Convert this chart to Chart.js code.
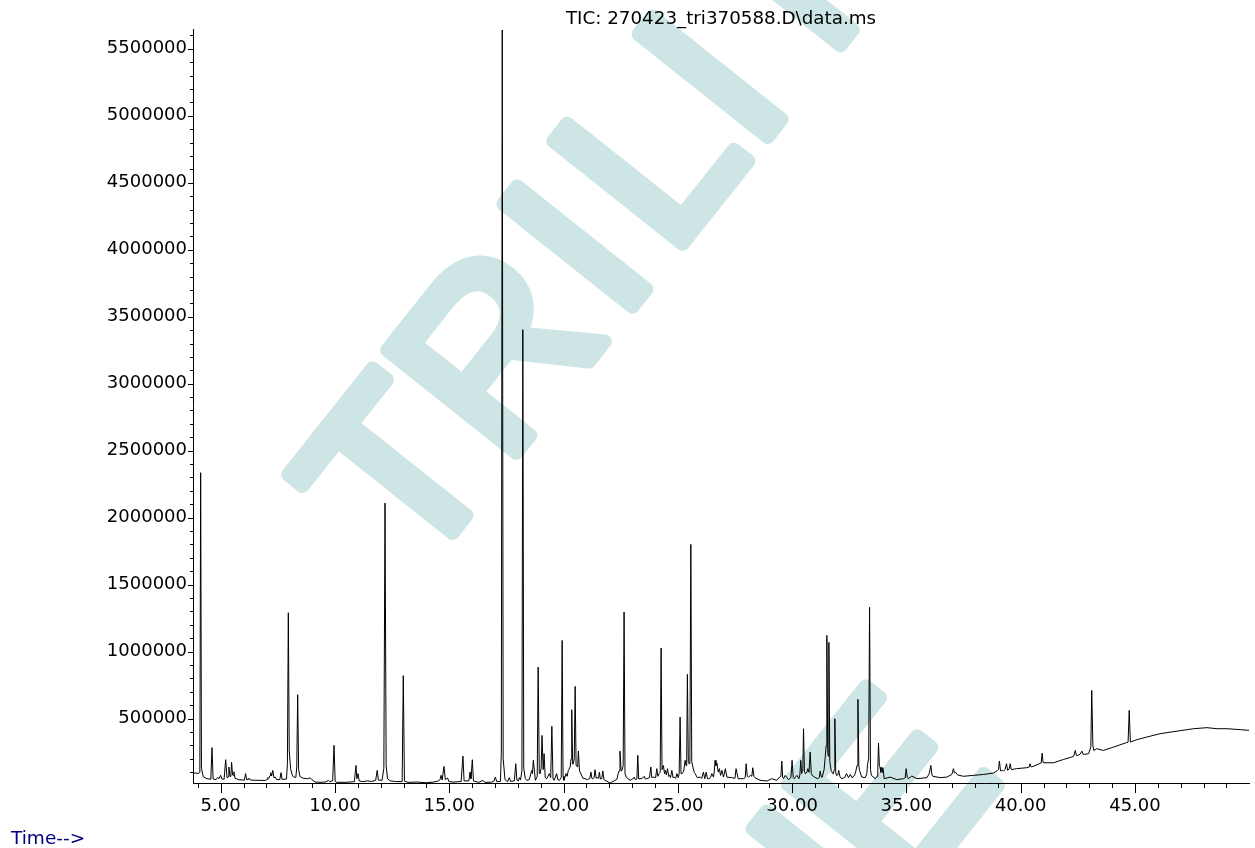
<!DOCTYPE html>
<html>
<head>
<meta charset="utf-8">
<script src="https://cdn.jsdelivr.net/npm/chart.js@4/dist/chart.umd.min.js"></script>
<style>
  html, body { margin: 0; padding: 0; background: #ffffff; }
  #c { display: block; }
</style>
</head>
<body>
<canvas id="c" width="1255" height="848"></canvas>
<script>
// ---- data ----
const chartTitle = 'TIC: 270423_tri370588.D\\data.ms';
const timeLabel = 'Time-->';
const xTickValues = [5, 10, 15, 20, 25, 30, 35, 40, 45];
const yTickValues = [500000, 1000000, 1500000, 2000000, 2500000, 3000000, 3500000, 4000000, 4500000, 5000000, 5500000];

const retentionTime = [
  3.79, 4.05, 4.09, 4.125, 4.16, 4.24, 4.40, 4.57, 4.62, 4.67, 4.80, 4.87, 4.92, 5.00, 5.05, 5.15,
  5.22, 5.28, 5.33, 5.36, 5.41, 5.45, 5.48, 5.52, 5.55, 5.58, 5.63, 5.80, 6.04, 6.09, 6.14, 6.21,
  6.25, 6.30, 6.60, 6.95, 7.03, 7.06, 7.11, 7.16, 7.19, 7.23, 7.28, 7.33, 7.39, 7.45, 7.59, 7.64,
  7.69, 7.88, 7.92, 7.96, 8.00, 8.06, 8.12, 8.18, 8.29, 8.33, 8.37, 8.41, 8.47, 8.60, 8.80, 8.91,
  8.98, 9.13, 9.35, 9.60, 9.71, 9.77, 9.90, 9.96, 10.01, 10.08, 10.50, 10.85, 10.92, 10.96, 11.01, 11.06,
  11.25, 11.42, 11.60, 11.78, 11.85, 11.90, 12.06, 12.14, 12.19, 12.24, 12.30, 12.42, 12.65, 12.94, 12.99, 13.04,
  13.20, 13.60, 14.00, 14.30, 14.52, 14.60, 14.64, 14.69, 14.77, 14.83, 14.93, 14.99, 15.20, 15.52, 15.60, 15.65,
  15.86, 15.91, 15.95, 16.01, 16.06, 16.30, 16.47, 16.55, 16.85, 16.96, 17.02, 17.08, 17.24, 17.28, 17.32, 17.36,
  17.44, 17.55, 17.63, 17.68, 17.85, 17.91, 17.96, 18.03, 18.07, 18.12, 18.18, 18.22, 18.26, 18.33, 18.39, 18.50,
  18.61, 18.64, 18.68, 18.77, 18.85, 18.89, 18.94, 18.97, 19.02, 19.06, 19.11, 19.15, 19.20, 19.27, 19.38, 19.44,
  19.49, 19.54, 19.59, 19.70, 19.75, 19.82, 19.90, 19.94, 19.98, 20.02, 20.11, 20.16, 20.21, 20.29, 20.33, 20.36,
  20.40, 20.43, 20.47, 20.51, 20.55, 20.58, 20.62, 20.65, 20.70, 20.76, 20.85, 20.94, 21.05, 21.15, 21.20, 21.24,
  21.28, 21.34, 21.38, 21.43, 21.48, 21.53, 21.57, 21.61, 21.64, 21.68, 21.72, 21.77, 21.82, 22.04, 22.26, 22.34,
  22.39, 22.43, 22.47, 22.52, 22.56, 22.61, 22.65, 22.69, 22.74, 22.91, 23.03, 23.09, 23.14, 23.21, 23.25, 23.29,
  23.35, 23.45, 23.53, 23.58, 23.64, 23.76, 23.82, 23.86, 23.93, 24.03, 24.08, 24.13, 24.18, 24.23, 24.27, 24.31,
  24.37, 24.42, 24.46, 24.50, 24.55, 24.60, 24.63, 24.68, 24.74, 24.79, 24.84, 24.91, 24.96, 25.02, 25.06, 25.10,
  25.14, 25.19, 25.26, 25.32, 25.36, 25.39, 25.42, 25.46, 25.49, 25.53, 25.57, 25.61, 25.66, 25.72, 25.76, 25.85,
  25.98, 26.05, 26.12, 26.18, 26.24, 26.30, 26.36, 26.43, 26.49, 26.56, 26.60, 26.63, 26.67, 26.71, 26.77, 26.82,
  26.87, 26.93, 27.00, 27.08, 27.15, 27.36, 27.50, 27.55, 27.64, 27.87, 27.95, 27.99, 28.04, 28.09, 28.19, 28.24,
  28.28, 28.33, 28.37, 28.60, 28.90, 29.11, 29.33, 29.45, 29.51, 29.55, 29.59, 29.62, 29.70, 29.84, 29.95, 30.00,
  30.05, 30.09, 30.21, 30.30, 30.34, 30.38, 30.42, 30.44, 30.47, 30.50, 30.54, 30.58, 30.65, 30.69, 30.74, 30.79,
  30.84, 30.88, 30.98, 31.11, 31.19, 31.23, 31.28, 31.32, 31.40, 31.45, 31.49, 31.52, 31.56, 31.58, 31.61, 31.65,
  31.71, 31.78, 31.81, 31.84, 31.87, 31.91, 31.94, 32.00, 32.04, 32.09, 32.16, 32.30, 32.38, 32.47, 32.55, 32.62,
  32.67, 32.74, 32.79, 32.84, 32.88, 32.92, 32.95, 33.05, 33.20, 33.27, 33.30, 33.35, 33.39, 33.43, 33.47, 33.64,
  33.72, 33.75, 33.78, 33.82, 33.85, 33.88, 33.91, 33.94, 33.97, 34.03, 34.29, 34.58, 34.87, 34.95, 34.99, 35.04,
  35.08, 35.24, 35.46, 35.90, 36.00, 36.07, 36.12, 36.16, 36.48, 36.77, 36.99, 37.06, 37.10, 37.15, 37.24, 37.50,
  37.94, 38.38, 38.81, 38.99, 39.03, 39.07, 39.12, 39.20, 39.25, 39.32, 39.38, 39.43, 39.50, 39.54, 39.59, 39.82,
  40.26, 40.38, 40.41, 40.46, 40.55, 40.82, 40.90, 40.94, 40.98, 41.00, 41.44, 41.88, 42.24, 42.32, 42.39, 42.44,
  42.49, 42.60, 42.68, 42.73, 42.78, 42.97, 43.07, 43.11, 43.16, 43.20, 43.33, 43.62, 44.06, 44.57, 44.70, 44.75,
  44.80, 45.08, 45.52, 46.10, 46.84, 47.56, 48.15, 48.59, 49.03, 49.61, 49.99
];

const ticAbundance = [
  95000, 92000, 100000, 2336000, 130000, 66000, 52000, 48000, 284000, 50000, 45000, 62000, 52000, 77000, 50000, 48000,
  194000, 60000, 66000, 139000, 70000, 82000, 174000, 80000, 76000, 104000, 55000, 44000, 42000, 90000, 45000, 46000,
  57000, 42000, 40000, 39000, 46000, 60000, 55000, 76000, 97000, 72000, 114000, 60000, 64000, 45000, 46000, 97000,
  46000, 50000, 160000, 1291000, 260000, 127000, 85000, 66000, 62000, 140000, 679000, 120000, 69000, 56000, 52000, 58000,
  47000, 27000, 25000, 28000, 40000, 30000, 36000, 301000, 32000, 25000, 25000, 30000, 151000, 52000, 90000, 35000,
  30000, 36000, 31000, 40000, 114000, 42000, 40000, 130000, 2109000, 150000, 52000, 36000, 31000, 30000, 821000, 34000,
  25000, 27000, 22000, 27000, 35000, 46000, 77000, 42000, 144000, 46000, 57000, 30000, 27000, 31000, 221000, 36000,
  36000, 101000, 52000, 194000, 35000, 25000, 40000, 25000, 26000, 35000, 64000, 30000, 32000, 250000, 5640000, 200000,
  45000, 30000, 60000, 32000, 36000, 164000, 42000, 36000, 60000, 42000, 110000, 3403000, 130000, 52000, 40000, 45000,
  114000, 90000, 189000, 40000, 70000, 885000, 95000, 90000, 130000, 375000, 120000, 239000, 60000, 52000, 90000, 60000,
  443000, 50000, 40000, 90000, 45000, 40000, 60000, 1084000, 70000, 40000, 90000, 70000, 114000, 139000, 200000, 567000,
  160000, 164000, 200000, 741000, 150000, 151000, 140000, 258000, 110000, 90000, 55000, 52000, 45000, 55000, 101000, 55000,
  52000, 60000, 119000, 55000, 60000, 55000, 101000, 50000, 52000, 60000, 110000, 45000, 40000, 20000, 40000, 50000,
  90000, 110000, 258000, 110000, 114000, 150000, 1296000, 90000, 64000, 40000, 50000, 64000, 45000, 50000, 226000, 50000,
  52000, 55000, 70000, 50000, 52000, 60000, 139000, 60000, 64000, 60000, 127000, 70000, 90000, 100000, 1027000, 120000,
  151000, 90000, 114000, 80000, 127000, 70000, 77000, 60000, 114000, 60000, 64000, 55000, 90000, 60000, 90000, 512000,
  90000, 90000, 110000, 189000, 150000, 200000, 831000, 180000, 164000, 250000, 1801000, 180000, 139000, 100000, 90000, 60000,
  64000, 55000, 101000, 52000, 101000, 52000, 52000, 60000, 90000, 64000, 110000, 189000, 150000, 169000, 101000, 127000,
  77000, 114000, 64000, 127000, 64000, 60000, 55000, 127000, 52000, 52000, 60000, 164000, 70000, 64000, 77000, 70000,
  134000, 70000, 60000, 40000, 35000, 52000, 40000, 64000, 70000, 184000, 60000, 52000, 77000, 45000, 60000, 189000,
  60000, 52000, 77000, 52000, 80000, 189000, 90000, 109000, 130000, 425000, 110000, 90000, 100000, 127000, 100000, 251000,
  90000, 77000, 64000, 52000, 60000, 109000, 64000, 64000, 120000, 214000, 300000, 1121000, 250000, 220000, 1070000, 180000,
  114000, 90000, 90000, 120000, 500000, 100000, 77000, 80000, 114000, 70000, 52000, 60000, 90000, 60000, 84000, 60000,
  64000, 80000, 109000, 150000, 644000, 150000, 114000, 64000, 60000, 90000, 159000, 200000, 1331000, 120000, 77000, 52000,
  70000, 120000, 318000, 150000, 134000, 100000, 139000, 100000, 134000, 52000, 64000, 45000, 52000, 60000, 127000, 60000,
  52000, 72000, 52000, 60000, 90000, 151000, 80000, 70000, 60000, 64000, 84000, 127000, 95000, 101000, 80000, 70000,
  77000, 84000, 94000, 114000, 120000, 184000, 110000, 114000, 110000, 120000, 164000, 115000, 125000, 164000, 120000, 127000,
  134000, 140000, 164000, 140000, 144000, 164000, 170000, 243000, 175000, 171000, 171000, 196000, 214000, 220000, 263000, 225000,
  226000, 235000, 258000, 235000, 234000, 238000, 288000, 711000, 300000, 263000, 276000, 263000, 288000, 318000, 325000, 562000,
  325000, 343000, 363000, 388000, 407000, 425000, 433000, 425000, 425000, 418000, 413000
];

// ---- decorative watermark (drawn beneath everything) ----
const watermarkPlugin = {
  id: 'watermark',
  beforeDraw(chart) {
    const ctx = chart.ctx;
    ctx.save();
    ctx.fillStyle = '#cde6e5';
    ctx.strokeStyle = '#cde6e5';
    ctx.lineWidth = 14;
    ctx.lineJoin = 'round';
    ctx.lineCap = 'round';
    ctx.font = '240px "Liberation Sans"';
    ctx.textBaseline = 'alphabetic';
    ctx.rotate(-51.5 * Math.PI / 180);
    const put = (ch, u, d, align) => {
      ctx.textAlign = align;
      ctx.fillText(ch, u, d);
      ctx.strokeText(ch, u, d);
    };
    // first line
    put('T', -124, 686, 'center');
    put('R', 34, 686, 'center');
    put('I', 165, 686, 'center');
    put('L', 281, 686, 'center');
    put('I', 382, 686, 'center');
    put('N', 468, 686, 'left');
    // second line (only its end is visible)
    put('I', -169, 1270, 'center');
    put('E', -63, 1270, 'center');
    ctx.restore();
  }
};

// ---- minor/major tick marks and the "Time-->" caption ----
const axisDecorPlugin = {
  id: 'axisDecor',
  afterDraw(chart) {
    const ctx = chart.ctx;
    const xs = chart.scales.x, ys = chart.scales.y;
    const area = chart.chartArea;
    ctx.save();
    ctx.strokeStyle = '#000';
    ctx.lineWidth = 1;
    ctx.beginPath();
    for (let t = Math.ceil(xs.min); t <= xs.max; t++) {
      const px = Math.round(xs.getPixelForValue(t)) + 0.5;
      const len = (t % 5 === 0) ? 10 : 5;
      ctx.moveTo(px, area.bottom);
      ctx.lineTo(px, area.bottom + len);
    }
    for (let v = 100000; v <= ys.max; v += 100000) {
      const py = Math.round(ys.getPixelForValue(v)) + 0.5;
      const len = (v % 500000 === 0) ? 5 : 3;
      ctx.moveTo(area.left, py);
      ctx.lineTo(area.left - len, py);
    }
    ctx.stroke();
    ctx.fillStyle = '#000080';
    ctx.font = '18.5px "DejaVu Sans"';
    ctx.textAlign = 'left';
    ctx.textBaseline = 'alphabetic';
    ctx.fillText(timeLabel, 11, 844);
    ctx.restore();
  }
};

const points = retentionTime.map((t, i) => ({ x: t, y: ticAbundance[i] }));

new Chart(document.getElementById('c'), {
  type: 'line',
  data: {
    datasets: [{
      data: points,
      borderColor: '#000000',
      borderWidth: 1,
      pointRadius: 0,
      tension: 0,
      fill: false
    }]
  },
  options: {
    responsive: false,
    animation: false,
    events: [],
    layout: { padding: { left: 0, right: 6, top: 0, bottom: 0 } },
    plugins: {
      legend: { display: false },
      tooltip: { enabled: false },
      title: {
        display: true,
        text: chartTitle,
        fullSize: false,
        color: '#000',
        font: { family: 'DejaVu Sans', size: 18.3, weight: 'normal' },
        padding: { top: 8, bottom: 0 }
      }
    },
    scales: {
      x: {
        type: 'linear',
        min: 3.79,
        max: 49.99,
        afterBuildTicks: (scale) => { scale.ticks = xTickValues.map(v => ({ value: v })); },
        afterFit: (scale) => { scale.height = 65; },
        ticks: {
          callback: (v) => Number(v).toFixed(2),
          color: '#000',
          font: { family: 'DejaVu Sans', size: 18 },
          padding: 13,
          maxRotation: 0,
          autoSkip: false
        },
        grid: { display: false, drawTicks: false },
        border: { display: true, color: '#000', width: 1 }
      },
      y: {
        type: 'linear',
        min: 20000,
        max: 5640000,
        afterBuildTicks: (scale) => { scale.ticks = yTickValues.map(v => ({ value: v })); },
        afterFit: (scale) => { scale.width = 193; },
        ticks: {
          callback: (v) => String(v),
          color: '#000',
          font: { family: 'DejaVu Sans', size: 18 },
          padding: 6
        },
        grid: { display: false, drawTicks: false },
        border: { display: true, color: '#000', width: 1 }
      }
    }
  },
  plugins: [watermarkPlugin, axisDecorPlugin]
});
</script>
</body>
</html>
